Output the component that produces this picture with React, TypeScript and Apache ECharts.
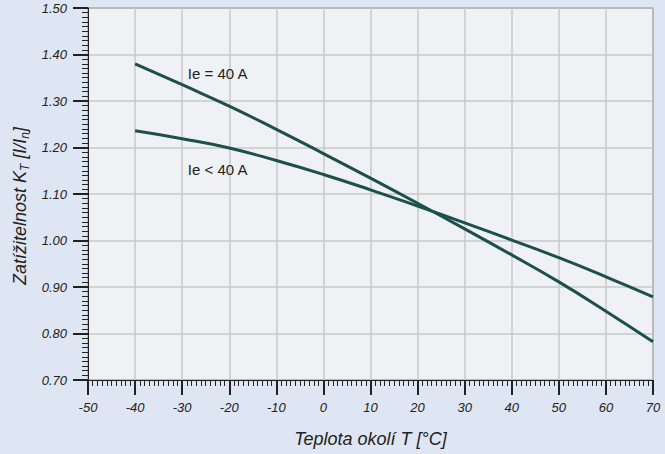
import React, { useEffect, useRef } from "react";
import * as echarts from "echarts";

const temps = [-40, -30, -20, -10, 0, 10, 20, 30, 40, 50, 60, 70];
const kEq40 = [1.38, 1.335, 1.289, 1.239, 1.187, 1.134, 1.08, 1.025, 0.969, 0.911, 0.848, 0.782];
const kLt40 = [1.236, 1.219, 1.199, 1.172, 1.142, 1.109, 1.074, 1.038, 1.001, 0.963, 0.922, 0.879];
const seriesNames = ["Ie = 40 A", "Ie < 40 A"];
const labelPos: [number, number][] = [
  [-28.8, 1.36],
  [-28.8, 1.152],
];

const FONT = "'Liberation Sans', Arial, Helvetica, sans-serif";
const LINE = "#1b504c";

export default function App() {
  const ref = useRef<HTMLDivElement>(null);
  useEffect(() => {
    if (!ref.current) return;
    const chart = echarts.init(ref.current, undefined, { renderer: "svg" });
    const mk = (vals: number[], idx: number) => ({
      type: "line",
      name: seriesNames[idx],
      data: temps.map((t, i) => [t, vals[i]]),
      smooth: true,
      symbol: "none",
      lineStyle: { color: LINE, width: 3 },
      markPoint: {
        symbol: "circle",
        symbolSize: 0,
        data: [{ coord: labelPos[idx] }],
        label: {
          show: true,
          position: "right",
          distance: 0,
          formatter: seriesNames[idx],
          color: "#222",
          fontSize: 15,
          fontFamily: FONT,
        },
      },
    });
    chart.setOption({
      animation: false,
      backgroundColor: "#dfe6f3",
      textStyle: { fontFamily: FONT },
      grid: {
        left: 88,
        right: 12,
        top: 8,
        bottom: 74,
        show: true,
        backgroundColor: "#f0f1f4",
        borderColor: "#333",
        borderWidth: 1,
      },
      xAxis: {
        type: "value",
        min: -50,
        max: 70,
        interval: 10,
        name: "Teplota okolí T [°C]",
        nameLocation: "middle",
        nameGap: 50,
        nameTextStyle: { fontSize: 18, fontStyle: "italic", color: "#222", fontFamily: FONT },
        axisLine: { onZero: false, lineStyle: { color: "#222", width: 1 } },
        axisTick: { show: true, length: 15, lineStyle: { color: "#222", width: 2 } },
        minorTick: { show: true, splitNumber: 10, length: 6, lineStyle: { color: "#222", width: 1 } },
        axisLabel: { margin: 21, fontSize: 13, fontStyle: "italic", color: "#222", fontFamily: FONT },
        splitLine: { show: true, lineStyle: { color: "#c8c8c8", width: 1.5 } },
        minorSplitLine: { show: false },
      },
      yAxis: {
        type: "value",
        min: 0.7,
        max: 1.5,
        interval: 0.1,
        name: "Zatížitelnost K{s|T} [I/I{s|n}]",
        nameLocation: "middle",
        nameRotate: 90,
        nameGap: 56,
        nameTextStyle: {
          fontSize: 18,
          fontStyle: "italic",
          color: "#222",
          fontFamily: FONT,
          padding: [0, 24, 0, 0],
          rich: {
            s: { fontSize: 12, fontStyle: "italic", color: "#222", fontFamily: FONT, padding: [10, 0, 0, 0] },
          },
        },
        axisLine: { show: true, onZero: false, lineStyle: { color: "#222", width: 1 } },
        axisTick: { show: true, length: 15, lineStyle: { color: "#222", width: 2 } },
        minorTick: { show: true, splitNumber: 10, length: 6, lineStyle: { color: "#222", width: 1 } },
        axisLabel: {
          margin: 21,
          fontSize: 13,
          fontStyle: "italic",
          color: "#222",
          fontFamily: FONT,
          formatter: (v: number) => v.toFixed(2),
        },
        splitLine: { show: true, lineStyle: { color: "#c8c8c8", width: 1.5 } },
      },
      series: [mk(kEq40, 0), mk(kLt40, 1)],
    });
    return () => chart.dispose();
  }, []);
  return (
    <div
      ref={ref}
      style={{ position: "fixed", left: 0, top: 0, width: 665, height: 454 }}
    />
  );
}
